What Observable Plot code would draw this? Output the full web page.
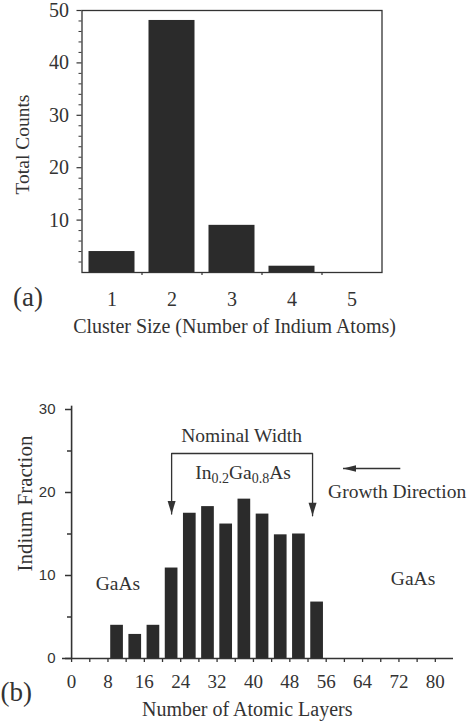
<!DOCTYPE html>
<html><head><meta charset="utf-8">
<script src="https://cdn.jsdelivr.net/npm/d3@7"></script>
<script src="https://cdn.jsdelivr.net/npm/@observablehq/plot@0.6"></script>
<style>
body{margin:0;background:#fff}
#a,#b{display:block;line-height:0}
</style>
</head><body><div id="a"></div><div id="b"></div>
<script>
// ---------- Panel (a) data ----------
const clusterSizes = [1, 2, 3, 4, 5];
const clusterCounts = [4.0, 48.1, 9.0, 1.2, 0];
const countTicks = [10, 20, 30, 40, 50];
const countMinorTicks = [2, 4, 6, 8, 12, 14, 16, 18, 22, 24, 26, 28, 32, 34, 36, 38, 42, 44, 46, 48];

// ---------- Panel (b) data ----------
const layerStarts = [8, 12, 16, 20, 24, 28, 32, 36, 40, 44, 48, 52];
const indiumFraction = [4.0, 2.9, 4.0, 10.9, 17.5, 18.3, 16.2, 19.2, 17.4, 14.9, 15.0, 6.8];
const layerTicks = [0, 8, 16, 24, 32, 40, 48, 56, 64, 72, 80];
const layerMinorTicks = [0, 4, 8, 12, 16, 20, 24, 28, 32, 36, 40, 44, 48, 52, 56, 60, 64, 68, 72, 76, 80];
const fractionTicks = [0, 10, 20, 30];
const fractionMinorTicks = [5, 15, 25];

// annotations (data coordinates)
const nominalBracket = [{x: 22, y: 17.4}, {x: 22, y: 24.7}, {x: 53, y: 24.7}, {x: 53, y: 17.2}];
const nominalTips = [{x: 22, y: 17.4}, {x: 53, y: 17.2}];
const growthArrow = [{x1: 72.3, x2: 59.7, y: 22.9}];
const annotations = [
  {label: "Nominal Width", x: 37.4, y: 26.1},
  {label: "In0.2Ga0.8As", x: 37.7, y: 21.6},
  {label: "Growth Direction", x: 71.6, y: 19.3},
  {label: "GaAs", x: 10.2, y: 8.3},
  {label: "GaAs", x: 75.1, y: 8.8}
];

const clusterData = clusterSizes.map((s, i) => ({size: s, count: clusterCounts[i]}));
const layerData = layerStarts.map((s, i) => ({start: s, fraction: indiumFraction[i]}));
const boundaries = clusterSizes.slice(0, -1).map(d => d + 0.5);

const SERIF = "'Liberation Serif', 'Times New Roman', serif";
const SANS = "'Liberation Sans', Arial, sans-serif";
const INK = "#333";
const BAR = "#2b2b2b";

const A = Plot.plot({
  width: 470, height: 345,
  marginTop: 10, marginBottom: 73, marginLeft: 81.5, marginRight: 88.5,
  style: {fontFamily: SERIF, color: INK, background: "#fff", overflow: "visible"},
  x: {domain: [0.5, 5.5]},
  y: {domain: [0, 50]},
  marks: [
    Plot.rectY(clusterData, {x1: d => d.size - 0.5, x2: d => d.size + 0.5, y1: 0, y2: "count", fill: BAR, insetLeft: 7, insetRight: 7}),
    Plot.frame({stroke: INK, strokeWidth: 1.3}),
    Plot.axisY(countTicks, {label: null, tickSize: 5, tickPadding: 8, fontSize: 20, strokeWidth: 1.2}),
    Plot.axisY(countMinorTicks, {label: null, tickSize: 3, text: null}),
    Plot.axisX(boundaries, {label: null, tickSize: 3, text: null, strokeWidth: 1.2}),
    Plot.axisX(clusterSizes, {label: null, tickSize: 0, tickPadding: 19, fontSize: 20}),
    Plot.text(["Total Counts"], {frameAnchor: "left", textAnchor: "middle", rotate: -90, dx: -59, dy: 3, fontSize: 19.5, fill: INK}),
    Plot.text(["Cluster Size (Number of Indium Atoms)"], {frameAnchor: "bottom", textAnchor: "middle", lineAnchor: "bottom", dx: 2.5, dy: 60, fontSize: 20, fill: INK}),
    Plot.text(["(a)"], {frameAnchor: "bottom-left", textAnchor: "start", lineAnchor: "bottom", dx: -69, dy: 33, fontSize: 27, fill: INK})
  ]
});

const headDown = {draw(ctx) { ctx.moveTo(0, 0); ctx.lineTo(-4, -13); ctx.lineTo(4, -13); ctx.closePath(); }};
const headLeft = {draw(ctx) { ctx.moveTo(0, 0); ctx.lineTo(13, -3.2); ctx.lineTo(13, 3.2); ctx.closePath(); }};

const B = Plot.plot({
  width: 470, height: 382,
  marginTop: 64, marginBottom: 69, marginLeft: 62, marginRight: 17,
  style: {fontFamily: SERIF, color: INK, background: "#fff", overflow: "visible"},
  x: {domain: [-2, 84]},
  y: {domain: [0, 30]},
  marks: [
    Plot.rectY(layerData, {x1: "start", x2: d => d.start + 4, y1: 0, y2: "fraction", fill: BAR, insetLeft: 2.75, insetRight: 2.75}),
    Plot.ruleY([0], {stroke: INK, strokeWidth: 1.6}),
    Plot.ruleX([0], {y1: 0, y2: 30.4, stroke: INK, strokeWidth: 1.6}),
    Plot.axisY(fractionTicks, {label: null, dx: 9, tickSize: 6, tickPadding: 10, fontFamily: SANS, fontSize: 15, strokeWidth: 1.5}),
    Plot.axisY(fractionMinorTicks, {label: null, dx: 9, tickSize: 4, text: null, strokeWidth: 1.5}),
    Plot.axisX(layerMinorTicks, {label: null, tickSize: 4, text: null, strokeWidth: 1.3}),
    Plot.axisX(layerTicks, {label: null, tickSize: 0, tickPadding: 16, fontSize: 19}),
    Plot.line(nominalBracket, {x: "x", y: "y", stroke: INK, strokeWidth: 1.3}),
    Plot.dot(nominalTips, {x: "x", y: "y", symbol: headDown, fill: INK, stroke: "none"}),
    Plot.link(growthArrow, {x1: "x1", x2: "x2", y1: "y", y2: "y", stroke: INK, strokeWidth: 1.6}),
    Plot.dot(growthArrow, {x: "x2", y: "y", symbol: headLeft, fill: INK, stroke: "none"}),
    Plot.text(annotations, {x: "x", y: "y", text: "label", lineAnchor: "bottom", fontSize: 19.5, fill: INK}),
    Plot.text(["Indium Fraction"], {frameAnchor: "left", textAnchor: "middle", rotate: -90, dx: -37, dy: -30.5, fontSize: 21, fill: INK}),
    Plot.text(["Number of Atomic Layers"], {frameAnchor: "bottom", textAnchor: "middle", lineAnchor: "bottom", dx: -10.8, dy: 57, fontSize: 20, fill: INK}),
    Plot.text(["(b)"], {frameAnchor: "bottom-left", textAnchor: "start", lineAnchor: "bottom", dx: -62, dy: 42, fontSize: 27, fill: INK})
  ]
});

// subscripts for In0.2Ga0.8As
B.querySelectorAll("text").forEach(t => {
  if (t.textContent === "In0.2Ga0.8As") {
    t.textContent = "";
    const parts = [["In", 0, null], ["0.2", 4, 14], ["Ga", -4, null], ["0.8", 4, 14], ["As", -4, null]];
    for (const [s, dy, fs] of parts) {
      const ts = document.createElementNS("http://www.w3.org/2000/svg", "tspan");
      ts.textContent = s;
      if (dy) ts.setAttribute("dy", dy);
      if (fs) ts.setAttribute("font-size", fs);
      t.appendChild(ts);
    }
  }
});

document.getElementById("a").appendChild(A);
document.getElementById("b").appendChild(B);
</script>
</body></html>
